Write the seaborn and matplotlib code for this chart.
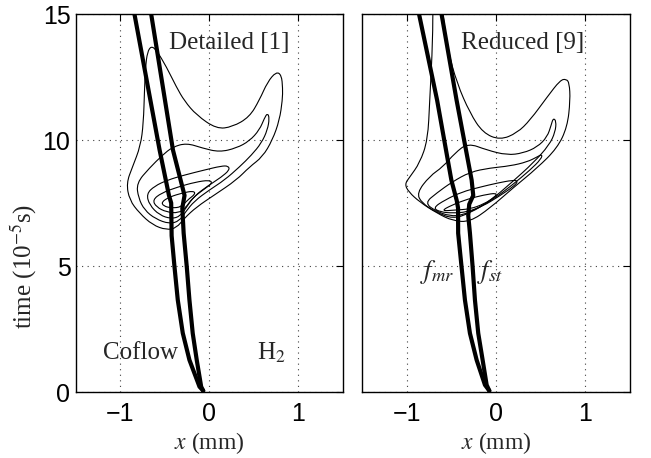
import numpy as np
import pandas as pd
import matplotlib
matplotlib.use("Agg")
import matplotlib.pyplot as plt
import seaborn as sns
from matplotlib.path import Path
from matplotlib.patches import PathPatch

# ---------------- data (x in mm, time in 1e-5 s) ----------------
# thick iso-lines, left panel (Detailed)
fmr_L_x = [-0.843, -0.56, -0.455, -0.43, -0.425, -0.393, -0.356, -0.30, -0.225, -0.112, -0.07]
fmr_L_y = [15.0, 9.6, 7.8, 7.5, 6.2, 4.97, 3.65, 2.34, 1.27, 0.21, 0.05]
fst_L_x = [-0.655, -0.41, -0.28, -0.305, -0.29, -0.255, -0.225, -0.188, -0.143, -0.093, -0.07]
fst_L_y = [15.0, 9.6, 7.8, 7.3, 6.3, 4.97, 3.65, 2.33, 1.27, 0.21, 0.05]

# thick iso-lines, right panel (Reduced)
fmr_R_x = [-0.862, -0.66, -0.50, -0.44, -0.425, -0.424, -0.386, -0.348, -0.292, -0.217, -0.124, -0.075]
fmr_R_y = [15.0, 11.59, 8.41, 7.6, 7.3, 6.3, 4.97, 3.65, 2.33, 1.27, 0.28, 0.05]
fst_R_x = [-0.61, -0.442, -0.273, -0.255, -0.30, -0.311, -0.292, -0.262, -0.236, -0.199, -0.15, -0.105, -0.075]
fst_R_y = [15.0, 11.59, 8.41, 7.8, 7.45, 7.0, 6.3, 4.97, 3.65, 2.33, 1.27, 0.28, 0.05]

# contour levels, left panel (closed curves)
c1L_x = [-0.655, -0.596, -0.483, -0.371, -0.281, -0.146, 0.079, 0.258, 0.449, 0.562, 0.652, 0.75, 0.809, 0.823,
         0.82, 0.787, 0.708, 0.596, 0.449, 0.303, 0.056, -0.146, -0.281, -0.371, -0.483, -0.640, -0.787, -0.899,
         -0.933, -0.865, -0.775, -0.742, -0.730, -0.719, -0.697]
c1L_y = [13.73, 13.57, 12.90, 12.10, 11.55, 10.99, 10.44, 10.52, 10.91, 11.59, 12.30, 12.71, 12.58, 12.06,
         11.59, 10.79, 10.0, 9.33, 8.93, 8.41, 7.82, 7.34, 6.90, 6.51, 6.43, 6.63, 7.10, 7.62,
         8.29, 8.93, 9.76, 10.67, 11.98, 12.90, 13.49]
c2L_x = [-0.820, -0.674, -0.528, -0.416, -0.258, -0.079, 0.112, 0.303, 0.449, 0.562, 0.618, 0.652, 0.674,
         0.652, 0.584, 0.472, 0.337, 0.169, 0.0, -0.169, -0.270, -0.337, -0.449, -0.607, -0.730, -0.798]
c2L_y = [8.29, 8.89, 9.40, 9.72, 9.88, 9.68, 9.52, 9.68, 9.96, 10.40, 10.87, 11.07, 10.87,
         10.40, 9.88, 9.40, 8.93, 8.41, 8.02, 7.58, 7.14, 6.79, 6.67, 6.87, 7.22, 7.70]
c3L_x = [-0.708, -0.618, -0.472, -0.281, -0.056, 0.135, 0.213, 0.225, 0.135, -0.022, -0.169, -0.258,
         -0.326, -0.427, -0.562, -0.674]
c3L_y = [7.86, 8.17, 8.41, 8.61, 8.81, 8.97, 8.97, 8.81, 8.53, 8.17, 7.78, 7.34,
         6.98, 6.87, 7.02, 7.42]
c4L_x = [-0.640, -0.539, -0.360, -0.157, 0.0, 0.034, -0.056, -0.191, -0.270, -0.348, -0.483, -0.596]
c4L_y = [7.62, 7.90, 8.13, 8.33, 8.41, 8.29, 8.06, 7.70, 7.30, 7.10, 7.14, 7.34]
c5L_x = [-0.539, -0.449, -0.303, -0.180, -0.157, -0.247, -0.315, -0.427, -0.517]
c5L_y = [7.54, 7.74, 7.90, 7.98, 7.86, 7.62, 7.34, 7.30, 7.38]

# contour levels, right panel (outer one leaves the top of the axes)
c1R_x = [-0.708, -0.708, -0.742, -0.764, -0.854, -0.966, -1.022, -0.978, -0.854, -0.663, -0.483, -0.292,
         -0.067, 0.191, 0.461, 0.685, 0.798, 0.831, 0.820, 0.787, 0.719, 0.573, 0.382, 0.236, 0.045,
         -0.146, -0.292, -0.438, -0.539, -0.596, -0.607]
c1R_y = [15.56, 13.97, 11.59, 10.0, 9.09, 8.53, 8.25, 7.94, 7.54, 7.10, 6.79, 6.75,
         7.30, 8.10, 8.89, 9.68, 10.52, 11.59, 12.26, 12.42, 12.38, 11.71, 10.79, 10.28, 10.0,
         10.28, 11.07, 12.26, 13.57, 15.0, 15.56]
c2R_x = [-0.888, -0.742, -0.596, -0.461, -0.315, -0.101, 0.124, 0.303, 0.461, 0.573, 0.618, 0.640, 0.674,
         0.663, 0.596, 0.416, 0.180, -0.067, -0.292, -0.483, -0.674, -0.831]
c2R_y = [7.90, 8.57, 8.93, 9.48, 9.88, 9.60, 9.40, 9.48, 9.72, 10.12, 10.60, 10.87, 10.75,
         10.32, 9.80, 9.09, 8.33, 7.58, 7.10, 6.87, 7.14, 7.50]
c3R_x = [-0.798, -0.663, -0.494, -0.292, -0.067, 0.157, 0.348, 0.461, 0.517, 0.506, 0.382, 0.180,
         -0.011, -0.202, -0.371, -0.517, -0.674]
c3R_y = [7.50, 7.90, 8.33, 8.73, 8.89, 8.97, 9.13, 9.33, 9.44, 9.25, 8.81, 8.21,
         7.70, 7.30, 7.02, 6.98, 7.18]
c4R_x = [-0.708, -0.573, -0.382, -0.180, 0.011, 0.191, 0.247, 0.202, 0.022, -0.146, -0.326, -0.483, -0.618]
c4R_y = [7.30, 7.62, 7.94, 8.13, 8.29, 8.41, 8.37, 8.17, 7.74, 7.38, 7.14, 7.10, 7.14]
c5R_x = [-0.618, -0.494, -0.315, -0.135, 0.011, -0.011, -0.135, -0.292, -0.461]
c5R_y = [7.18, 7.42, 7.66, 7.82, 7.90, 7.74, 7.46, 7.26, 7.22]

x_ticks = [-1, 0, 1]
y_ticks = [0, 5, 10, 15]
panel_titles = ["Detailed [1]", "Reduced [9]"]

# ---------------- styling ----------------
sns.set_style("white")
plt.rcParams['font.family'] = ['Liberation Sans', 'DejaVu Sans']
plt.rcParams['mathtext.fontset'] = 'stix'
SERIF = ['Liberation Serif', 'DejaVu Serif']

fig = plt.figure(figsize=(6.51, 4.58), dpi=100)
axL = fig.add_axes([0.1167, 0.1441, 0.4101, 0.8253])
axR = fig.add_axes([0.5561, 0.1441, 0.4117, 0.8253])


def contour(ax, xs, ys):
    pts = np.column_stack([xs, ys])
    mids = (pts + np.roll(pts, -1, axis=0)) / 2.0
    verts = [mids[-1]]
    codes = [Path.MOVETO]
    for i in range(len(pts)):
        verts += [pts[i], mids[i]]
        codes += [Path.CURVE3, Path.CURVE3]
    ax.add_patch(PathPatch(Path(verts, codes), fill=False, lw=0.8, ec='black', zorder=3))


def thick(ax, xs, ys):
    df = pd.DataFrame({'x': xs, 'y': ys})
    sns.lineplot(data=df, x='x', y='y', sort=False, estimator=None, color='black',
                 lw=3.0, ax=ax, zorder=4)


for c in [(c1L_x, c1L_y), (c2L_x, c2L_y), (c3L_x, c3L_y), (c4L_x, c4L_y), (c5L_x, c5L_y)]:
    contour(axL, *c)
for c in [(c1R_x, c1R_y), (c2R_x, c2R_y), (c3R_x, c3R_y), (c4R_x, c4R_y), (c5R_x, c5R_y)]:
    contour(axR, *c)

thick(axL, fmr_L_x, fmr_L_y)
thick(axL, fst_L_x, fst_L_y)
thick(axR, fmr_R_x, fmr_R_y)
thick(axR, fst_R_x, fst_R_y)

for ax in (axL, axR):
    ax.set_xlim(-1.5, 1.5)
    ax.set_ylim(0, 15)
    ax.set_xticks(x_ticks)
    ax.set_yticks(y_ticks)
    ax.grid(True, linestyle=(0, (1, 4)), color='0.25', lw=0.8)
    ax.tick_params(direction='in', top=True, right=True, length=5, width=0.8,
                   labelsize=18, pad=7, colors='black')
    for s in ax.spines.values():
        s.set_color('black')
        s.set_linewidth(1.0)
    ax.set_xlabel('$x$ (mm)', fontfamily=SERIF, fontsize=17, labelpad=3)
    ax.set_ylabel('')

axL.tick_params(axis='y', pad=4)
axR.set_yticklabels([])
axL.set_ylabel('time (10$^{-5}$s)', fontfamily=SERIF, fontsize=18)
axL.yaxis.set_label_coords(-0.14, 0.333)

axL.text(0.22, 13.85, panel_titles[0], fontfamily=SERIF, fontsize=18, ha='center', va='center')
axR.text(0.30, 13.85, panel_titles[1], fontfamily=SERIF, fontsize=18, ha='center', va='center')
axL.text(-0.77, 1.55, 'Coflow', fontfamily=SERIF, fontsize=18, ha='center', va='center')
axL.text(0.70, 1.55, 'H$_2$', fontfamily=SERIF, fontsize=18, ha='center', va='center')
axR.text(-0.66, 4.76, '$f_{mr}$', fontsize=19, ha='center', va='center')
axR.text(-0.07, 4.76, '$f_{st}$', fontsize=19, ha='center', va='center')

fig.savefig('out.png', dpi=100)
